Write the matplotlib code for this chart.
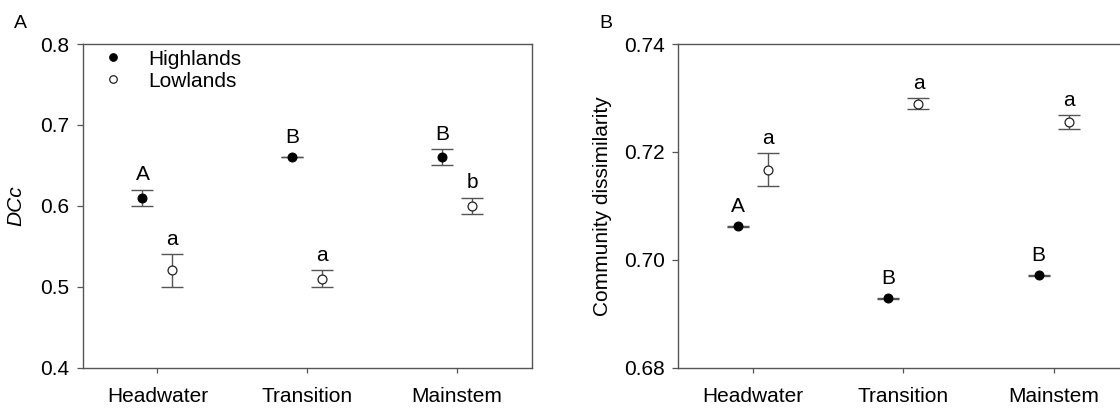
import matplotlib
matplotlib.use("Agg")
import matplotlib.pyplot as plt
import numpy as np

plt.rcParams['font.family'] = ['Liberation Sans', 'DejaVu Sans']

categories = ["Headwater", "Transition", "Mainstem"]

# Panel A (DCc)
a_high = [0.61, 0.66, 0.66]
a_high_err = [0.010, 0.0003, 0.010]
a_low = [0.52, 0.51, 0.60]
a_low_err = [0.020, 0.010, 0.010]
a_high_letters = ["A", "B", "B"]
a_low_letters = ["a", "a", "b"]
a_yticks = [0.4, 0.5, 0.6, 0.7, 0.8]

# Panel B (Community dissimilarity)
b_high = [0.7062, 0.6928, 0.6971]
b_high_err = [0.0001, 0.0001, 0.0001]
b_low = [0.7167, 0.7289, 0.7255]
b_low_err = [0.0030, 0.0010, 0.0013]
b_high_letters = ["A", "B", "B"]
b_low_letters = ["a", "a", "a"]
b_yticks = [0.68, 0.70, 0.72, 0.74]

W, H = 1120, 408
fig = plt.figure(figsize=(W / 100, H / 100), dpi=100)

ax_h_px = 323.5
axA = fig.add_axes([82.5 / W, (H - 367.5) / H, 449.5 / W, ax_h_px / H])
axB = fig.add_axes([678 / W, (H - 367.5) / H, 451 / W, ax_h_px / H])

FS = 15
spine_col = "#555555"
ms = 6.4
off = 0.1


def draw(ax, high, high_err, low, low_err, hl, ll, yticks, ylim, fmt, ylabel, italic, legend, xmax):
    x = np.arange(1, len(categories) + 1)
    xh = x - off
    xl = x + off
    ax.errorbar(xh, high, yerr=high_err, fmt='none', ecolor=spine_col, elinewidth=1.0,
                capsize=7.8, capthick=1.0, zorder=2)
    ax.errorbar(xl, low, yerr=low_err, fmt='none', ecolor=spine_col, elinewidth=1.0,
                capsize=7.8, capthick=1.0, zorder=2)
    ax.plot(xh, high, 'o', color='black', ms=ms, mec='black', mew=0.8, zorder=3,
            linestyle='none', label='Highlands')
    ax.plot(xl, low, 'o', color='white', ms=ms, mec='#222222', mew=0.9, zorder=3,
            linestyle='none', label='Lowlands')
    ax.set_ylim(*ylim)
    ax.set_yticks(yticks)
    ax.set_yticklabels([fmt.format(v) for v in yticks])
    ax.set_xticks(x)
    ax.set_xticklabels(categories)
    ax.set_xlim(0.5, xmax)
    yr = ylim[1] - ylim[0]
    hpts = ax_h_px * 0.72
    r_pts = ms / 2
    for xs, vals, errs, labs in ((xh, high, high_err, hl), (xl, low, low_err, ll)):
        for xi, v, e, t in zip(xs, vals, errs, labs):
            e_pts = e / yr * hpts
            o = max(e_pts, r_pts) + 4.0
            ax.annotate(t, (xi, v), xytext=(0, o), textcoords='offset points',
                        ha='center', va='bottom', fontsize=FS)
    for s in ax.spines.values():
        s.set_color(spine_col)
        s.set_linewidth(1.0)
    ax.tick_params(axis='y', direction='out', length=4.3, width=0.9, color=spine_col,
                   labelsize=FS, pad=5)
    ax.tick_params(axis='x', direction='out', length=3.6, width=0.9, color=spine_col,
                   labelsize=FS, pad=10.5)
    ax.set_ylabel(ylabel, fontsize=FS, style='italic' if italic else 'normal')
    if legend:
        ax.legend(loc='upper left', bbox_to_anchor=(16.4 / 449.5, 1 - 1.5 / ax_h_px),
                  frameon=False, fontsize=FS, handlelength=1.0,
                  handletextpad=1.15, labelspacing=0.15, borderaxespad=0.0,
                  borderpad=0.2, markerscale=0.85)


draw(axA, a_high, a_high_err, a_low, a_low_err, a_high_letters, a_low_letters,
     a_yticks, (0.4, 0.8), "{:.1f}", "DCc", True, True, 3.5)
draw(axB, b_high, b_high_err, b_low, b_low_err, b_high_letters, b_low_letters,
     b_yticks, (0.68, 0.74), "{:.2f}", "Community dissimilarity", False, False,
     0.5 + 451 / 150.3)

axA.yaxis.set_label_coords((25 - 82.5) / 449.5, 0.5)
axB.yaxis.set_label_coords((612 - 678) / 451, 0.5)

fig.text(14 / W, 1 - 28 / H, "A", fontsize=14, ha='left', va='baseline')
fig.text(599 / W, 1 - 28 / H, "B", fontsize=14, ha='left', va='baseline')

fig.savefig("out.png", dpi=100)
